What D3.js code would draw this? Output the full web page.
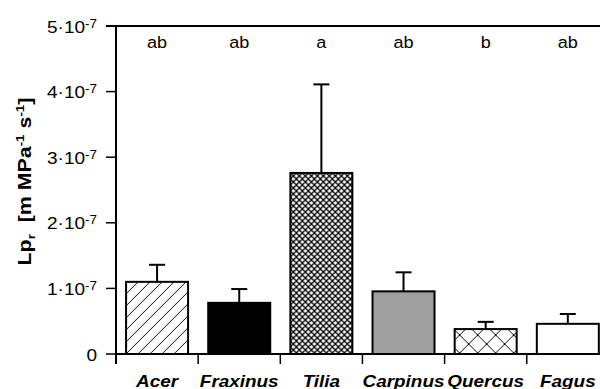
<!DOCTYPE html>
<html>
<head>
<meta charset="utf-8">
<script src="https://cdn.jsdelivr.net/npm/d3@7"></script>
<style>
  html, body { margin: 0; padding: 0; background: #fff; }
  svg { display: block; font-family: "Liberation Sans", Arial, sans-serif; }
</style>
</head>
<body>
<div id="chart"></div>
<script>
// Root hydraulic conductivity by species
const species = ["Acer", "Fraxinus", "Tilia", "Carpinus", "Quercus", "Fagus"];
const means   = [1.10e-7, 0.78e-7, 2.76e-7, 0.955e-7, 0.38e-7, 0.46e-7];
const errors  = [0.26e-7, 0.21e-7, 1.35e-7, 0.29e-7, 0.11e-7, 0.15e-7];
const letters = ["ab", "ab", "a", "ab", "b", "ab"];
const fills   = ["hatch", "black", "fineCross", "gray", "coarseCross", "white"];
const yTicks  = [0, 1, 2, 3, 4, 5];

const W = 600, H = 389;
const x0 = 116, step = 82.15, barW = 62;
const yTop = 26, yBottom = 354;

const svg = d3.select("#chart").append("svg")
  .attr("width", W).attr("height", H);

const x = d3.scaleBand().domain(species)
  .range([x0, x0 + step * species.length]).padding(0);
const y = d3.scaleLinear().domain([0, 5e-7]).range([yBottom, yTop]);

const defs = svg.append("defs");
const barX = d => x(d) + (x.bandwidth() - barW) / 2;

// Fill patterns
species.forEach((s, i) => {
  const kind = fills[i];
  const bx = barX(s), by = y(means[i]);
  if (kind === "hatch") {
    const p = defs.append("pattern").attr("id", "pat" + i)
      .attr("patternUnits", "userSpaceOnUse")
      .attr("x", bx).attr("y", by).attr("width", 12).attr("height", 12);
    p.append("rect").attr("width", 12).attr("height", 12).attr("fill", "#fff");
    p.append("path").attr("d", "M-1,13 L13,-1 M-7,7 L7,-7 M5,19 L19,5")
      .attr("stroke", "#000").attr("stroke-width", 1);
  } else if (kind === "fineCross") {
    const sz = 6;
    const p = defs.append("pattern").attr("id", "pat" + i)
      .attr("patternUnits", "userSpaceOnUse")
      .attr("x", bx).attr("y", by).attr("width", sz).attr("height", sz);
    p.append("rect").attr("width", sz).attr("height", sz).attr("fill", "#fff");
    p.append("path").attr("d", `M0,0 L${sz},${sz} M0,${sz} L${sz},0`)
      .attr("stroke", "#000").attr("stroke-width", 1.3);
  } else if (kind === "coarseCross") {
    const sz = 18;
    const p = defs.append("pattern").attr("id", "pat" + i)
      .attr("patternUnits", "userSpaceOnUse")
      .attr("x", bx - 4).attr("y", by - 3).attr("width", sz).attr("height", sz);
    p.append("rect").attr("width", sz).attr("height", sz).attr("fill", "#fff");
    p.append("path").attr("d", `M0,0 L${sz},${sz} M0,${sz} L${sz},0`)
      .attr("stroke", "#000").attr("stroke-width", 1);
  }
});

const fillOf = i => {
  const k = fills[i];
  if (k === "black") return "#000";
  if (k === "gray") return "#a0a0a0";
  if (k === "white") return "#fff";
  return "url(#pat" + i + ")";
};

// Error bars (upper whisker only), drawn under the bars
const eb = svg.append("g").attr("stroke", "#000").attr("stroke-width", 2);
species.forEach((s, i) => {
  const cx = x(s) + x.bandwidth() / 2;
  eb.append("line").attr("x1", cx).attr("x2", cx)
    .attr("y1", y(means[i])).attr("y2", y(means[i] + errors[i]));
  eb.append("line").attr("x1", cx - 8).attr("x2", cx + 8)
    .attr("y1", y(means[i] + errors[i])).attr("y2", y(means[i] + errors[i]));
});

// Bars
svg.append("g").selectAll("rect").data(species).join("rect")
  .attr("x", d => barX(d))
  .attr("y", (d, i) => y(means[i]))
  .attr("width", barW)
  .attr("height", (d, i) => yBottom - y(means[i]))
  .attr("fill", (d, i) => fillOf(i))
  .attr("stroke", "#000").attr("stroke-width", 2);

// Y axis
const yAxis = svg.append("g");
yAxis.append("line").attr("x1", x0).attr("x2", x0)
  .attr("y1", yTop).attr("y2", yBottom + 10)
  .attr("stroke", "#000").attr("stroke-width", 2);
yTicks.forEach(t => {
  const ty = y(t * 1e-7);
  yAxis.append("line").attr("x1", x0 - 10).attr("x2", x0)
    .attr("y1", ty).attr("y2", ty).attr("stroke", "#000").attr("stroke-width", 1.5);
  const lbl = yAxis.append("text")
    .attr("transform", `translate(97, ${ty + 6.5}) scale(1.12, 1)`)
    .attr("text-anchor", "end").attr("font-size", 17).attr("fill", "#000");
  if (t === 0) {
    lbl.text("0");
  } else {
    lbl.append("tspan").text(t + "·10");
    lbl.append("tspan").attr("font-size", 12).attr("dy", -5).text("-7");
  }
});

// Top frame line
svg.append("line").attr("x1", x0 - 10).attr("x2", W)
  .attr("y1", yTop).attr("y2", yTop)
  .attr("stroke", "#000").attr("stroke-width", 2);

// X axis
const xAxis = svg.append("g");
xAxis.append("line").attr("x1", x0).attr("x2", W)
  .attr("y1", yBottom).attr("y2", yBottom)
  .attr("stroke", "#000").attr("stroke-width", 2);
species.slice(1).forEach(s => {
  xAxis.append("line").attr("x1", x(s)).attr("x2", x(s))
    .attr("y1", yBottom).attr("y2", yBottom + 10)
    .attr("stroke", "#000").attr("stroke-width", 1.5);
});
species.forEach(s => {
  xAxis.append("text")
    .attr("transform", `translate(${x(s) + x.bandwidth() / 2}, 386.5) scale(1.16, 1)`)
    .attr("text-anchor", "middle").attr("font-size", 16.3)
    .attr("font-weight", "bold").attr("font-style", "italic").text(s);
});

// Significance letters
species.forEach((s, i) => {
  svg.append("text")
    .attr("transform", `translate(${x(s) + x.bandwidth() / 2}, 48.3) scale(1.08, 1)`)
    .attr("text-anchor", "middle").attr("font-size", 16.7).text(letters[i]);
});

// Y axis title
const yt = svg.append("text")
  .attr("transform", "translate(31, 181.5) rotate(-90) scale(1.22, 1)")
  .attr("text-anchor", "middle").attr("font-size", 17.5).attr("font-weight", "bold");
yt.append("tspan").text("Lp");
yt.append("tspan").attr("font-size", 11).attr("dy", 4).text("r");
yt.append("tspan").attr("dy", -4).attr("xml:space", "preserve").text("\u00a0 [m MPa");
yt.append("tspan").attr("font-size", 11).attr("dy", -7).text("-1");
yt.append("tspan").attr("dy", 7).text(" s");
yt.append("tspan").attr("font-size", 11).attr("dy", -7).text("-1");
yt.append("tspan").attr("dy", 7).text("]");
</script>
</body>
</html>
